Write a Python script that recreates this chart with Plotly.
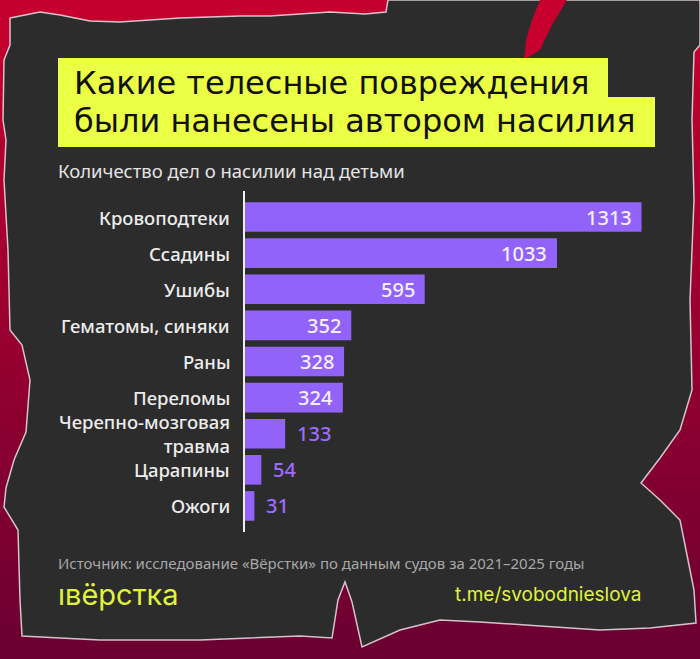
import plotly.graph_objects as go

# ---------------- data ----------------
categories = [
    "Кровоподтеки",
    "Ссадины",
    "Ушибы",
    "Гематомы, синяки",
    "Раны",
    "Переломы",
    "Черепно-мозговая<br>травма",
    "Царапины",
    "Ожоги",
]
values = [1313, 1033, 595, 352, 328, 324, 133, 54, 31]

title_line1 = "Какие телесные повреждения"
title_line2 = "были нанесены автором насилия"
subtitle = "Количество дел о насилии над детьми"
source = "Источник: исследование «Вёрстки» по данным судов за 2021–2025 годы"
logo = "ıвёрстка"
url = "t.me/svobodnieslova"

# ---------------- layout geometry ----------------
W, H = 700, 659
L, R, T, B = 245, 40, 199, 135
PW, PH = W - L - R, H - T - B
XMAX = PW / 0.302


def px(x):
    return (x - L) / PW


def py(y):
    return 1 - (y - T) / PH


BAR = "#9263fb"
YELLOW = "#ebff45"
LOGO_Y = "#e0f43c"

fig = go.Figure()
fig.add_trace(go.Bar(
    x=values, y=categories, orientation="h",
    marker=dict(color=BAR, line=dict(width=0)),
    hoverinfo="skip",
))

shapes = []
# crimson gradient background
top_c = (200, 0, 46)
bot_c = (106, 0, 50)
n = 40
for i in range(n):
    t0 = i / n
    c = tuple(int(top_c[k] + (bot_c[k] - top_c[k]) * (i + 0.5) / n) for k in range(3))
    shapes.append(dict(type="rect", xref="paper", yref="paper", layer="below",
                       x0=px(-5), x1=px(705), y0=py(t0 * H - 1), y1=py((i + 1) / n * H + 1),
                       fillcolor="rgb(%d,%d,%d)" % c, line=dict(width=0)))

paper_pts = [
    (10, 18), (40, 12), (60, 15), (90, 21), (120, 22), (150, 20), (180, 18), (210, 17),
    (240, 16), (270, 16), (300, 14), (330, 12), (365, 14), (386, 12), (388, 0),
    (700, 0), (700, 45), (694, 52), (692, 120), (694, 200), (690, 300), (692, 390),
    (680, 430), (660, 458), (641, 483), (660, 500), (680, 520), (688, 560), (694, 590),
    (696, 623), (650, 628), (600, 630), (540, 626), (480, 622), (440, 620), (400, 630),
    (362, 647), (352, 602), (345, 582), (338, 600), (332, 638), (300, 636), (200, 640),
    (100, 640), (60, 638), (22, 636), (20, 600), (18, 530), (4, 507), (6, 488), (14, 460),
    (26, 432), (30, 380), (22, 345), (10, 330), (8, 250), (4, 180), (6, 140), (3, 120),
    (4, 60), (10, 45),
]
path = "M " + " L ".join("%.5f,%.5f" % (px(x), py(y)) for x, y in paper_pts) + " Z"
shapes.append(dict(type="path", xref="paper", yref="paper", layer="below", path=path,
                   fillcolor="#2c2c2c", line=dict(color="rgba(235,225,230,0.85)", width=1.5)))

sliver = [(540, 0), (567, 0), (552, 25), (540, 50), (524, 60), (526, 40), (532, 20)]
path2 = "M " + " L ".join("%.5f,%.5f" % (px(x), py(y)) for x, y in sliver) + " Z"
shapes.append(dict(type="path", xref="paper", yref="paper", layer="below", path=path2,
                   fillcolor="rgb(200,0,46)", line=dict(width=0)))

# title boxes
shapes.append(dict(type="rect", xref="paper", yref="paper", layer="below",
                   x0=px(58), x1=px(608), y0=py(58), y1=py(98),
                   fillcolor=YELLOW, line=dict(width=0)))
shapes.append(dict(type="rect", xref="paper", yref="paper", layer="below",
                   x0=px(58), x1=px(655), y0=py(97), y1=py(147),
                   fillcolor=YELLOW, line=dict(width=0)))
# axis line
shapes.append(dict(type="line", xref="paper", yref="paper", layer="above",
                   x0=px(244), x1=px(244), y0=py(191), y1=py(532),
                   line=dict(color="#f0f0f0", width=2)))

annotations = []
# category labels (drawn at the category positions of the y axis)
for cat in categories:
    annotations.append(dict(
        x=px(232), y=cat, xref="paper", yref="y", text=cat, showarrow=False,
        xanchor="right", yanchor="middle", align="right",
        font=dict(family="Noto Sans", size=18.5, weight=500, color="#ececec"),
    ))

# value labels
for cat, v in zip(categories, values):
    inside = v > 200
    annotations.append(dict(
        x=v, y=cat, xref="x", yref="y", text=str(v), showarrow=False,
        xanchor="right" if inside else "left", xshift=-8 if inside else 10, yanchor="middle",
        font=dict(family="Noto Sans", size=20, weight=500,
                  color="#f4f0ff" if inside else "#9d6cff"),
    ))


def txt(text, x, y, size, color, family, anchor="left", weight=400):
    annotations.append(dict(text=text, x=px(x), y=py(y), xref="paper", yref="paper",
                            showarrow=False, xanchor=anchor, yanchor="middle",
                            font=dict(family=family, size=size, color=color, weight=weight)))


txt(title_line1, 72, 83, 32, "#111111", "DejaVu Sans")
txt(title_line2, 72, 121, 32, "#111111", "DejaVu Sans")
txt(subtitle, 56, 171, 18.5, "#e4e4e4", "Noto Sans")
txt(source, 56, 563, 15, "#a8a8a8", "Noto Sans")
txt(logo, 56, 594, 29, LOGO_Y, "Inter")
txt(url, 643, 594, 19, LOGO_Y, "Inter", anchor="right")

fig.update_layout(
    width=W, height=H,
    margin=dict(l=L, r=R, t=T, b=B, pad=0),
    paper_bgcolor="#8a0030",
    plot_bgcolor="rgba(0,0,0,0)",
    bargap=0.18,
    showlegend=False,
    shapes=shapes,
    annotations=annotations,
    xaxis=dict(range=[0, XMAX], visible=False, fixedrange=True),
    yaxis=dict(autorange="reversed", showgrid=False, showline=False, zeroline=False,
               showticklabels=False, ticks="", fixedrange=True),
)

fig.write_html("out.html", config={"displayModeBar": False},
               post_script="document.body.style.margin='0';document.body.style.overflow='hidden';")
